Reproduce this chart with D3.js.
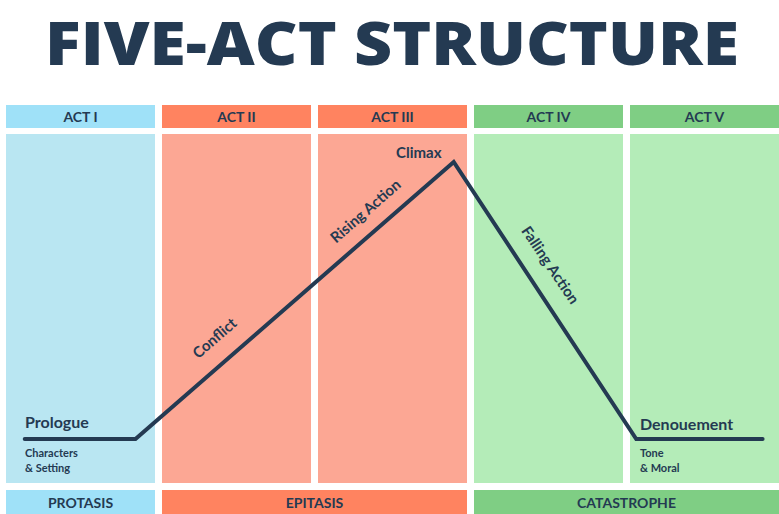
<!DOCTYPE html><html><head><meta charset="utf-8">
<script src="https://cdn.jsdelivr.net/npm/d3@7"></script>
<style>body{margin:0;background:#fff}</style></head><body>
<svg id="c" width="779" height="514"></svg>
<script>
const acts = ["ACT I","ACT II","ACT III","ACT IV","ACT V"];
const actGroup = [0,1,1,2,2];
const phases = ["PROTASIS","EPITASIS","CATASTROPHE"];
const phaseSpan = [[0,1],[1,3],[3,5]];
const headColors = ["#9fe1f8","#ff8360","#7fce84"];
const bodyColors = ["#b9e6f2","#fca794","#b4ecb8"];
const arcX = [0.12,0.83,2.87,4.04,4.85];
const arcY = [0,0,1,0,0];
const svg = d3.select("#c"), navy="#243a52", f="Lato, 'Open Sans', sans-serif";
const x = d3.scaleLinear().domain([0,5]).range([6,786]);
const y = d3.scaleLinear().domain([0,1]).range([439,162]);
const gap=7;
svg.append("text").attr("x",392).attr("y",65).attr("text-anchor","middle").attr("font-family","'Open Sans',sans-serif").attr("font-weight",800).attr("font-size",60).attr("fill",navy).attr("textLength",694).attr("lengthAdjust","spacingAndGlyphs").text("FIVE-ACT STRUCTURE");
acts.forEach((a,i)=>{
  const x0=x(i), w=x(i+1)-x(i)-gap;
  svg.append("rect").attr("x",x0).attr("y",105).attr("width",w).attr("height",23).attr("fill",headColors[actGroup[i]]);
  svg.append("rect").attr("x",x0).attr("y",134).attr("width",w).attr("height",349).attr("fill",bodyColors[actGroup[i]]);
  svg.append("text").attr("x",x0+w/2).attr("y",122).attr("text-anchor","middle").attr("font-family",f).attr("font-weight",700).attr("font-size",14).attr("fill",navy).text(a);
});
phases.forEach((p,i)=>{
  const x0=x(phaseSpan[i][0]), w=x(phaseSpan[i][1])-x0-gap;
  svg.append("rect").attr("x",x0).attr("y",490).attr("width",w).attr("height",24).attr("fill",headColors[i]);
  svg.append("text").attr("x",x0+w/2).attr("y",508).attr("text-anchor","middle").attr("font-family",f).attr("font-weight",700).attr("font-size",14).attr("fill",navy).text(p);
});
svg.append("path").attr("d",d3.line().x((d,i)=>x(d)).y((d,i)=>y(arcY[i]))(arcX)).attr("fill","none").attr("stroke",navy).attr("stroke-width",4).attr("stroke-linecap","round").attr("stroke-linejoin","miter");
const t=(s,xx,yy,size,rot,anchor)=>svg.append("text").attr("transform",`translate(${xx},${yy}) rotate(${rot||0})`).attr("text-anchor",anchor||"start").attr("font-family",f).attr("font-weight",700).attr("font-size",size).attr("fill",navy).text(s);
t("Prologue",25,428,16);
t("Characters",25,457,11);t("& Setting",25,472,11);
t("Denouement",640,430,16);
t("Tone",640,457,11);t("& Moral",640,472,11);
t("Climax",396,158,15);
t("Conflict",218,342,15,-41,"middle");
t("Rising Action",369,215,15,-41,"middle");
t("Falling Action",546,268,15,56,"middle");
</script></body></html>
